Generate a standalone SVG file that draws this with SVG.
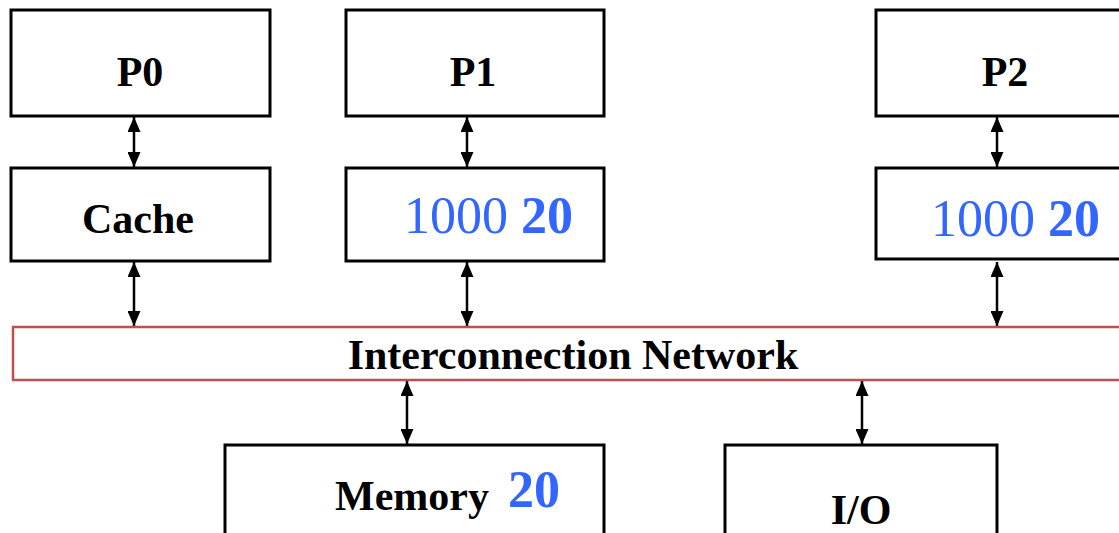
<svg xmlns="http://www.w3.org/2000/svg" width="1119" height="533" viewBox="0 0 1119 533">
  <style>
    .box { fill: #ffffff; stroke: #000000; stroke-width: 3; }
    .net { fill: #ffffff; stroke: #c0504d; stroke-width: 2.5; }
    .lbl { font-family: "Liberation Serif", "Times New Roman", serif; font-weight: bold; font-size: 42px; fill: #000000; }
    .val { font-family: "Liberation Serif", "Times New Roman", serif; font-size: 52px; fill: #3366ff; }
    .valb { font-weight: bold; }
    .link { stroke: #000000; stroke-width: 2.5; fill: none; marker-start: url(#head); marker-end: url(#head); }
  </style>
  <defs>
    <marker id="head" viewBox="0 0 15 13" refX="15" refY="6.5" markerWidth="15" markerHeight="13" markerUnits="userSpaceOnUse" orient="auto-start-reverse">
      <path d="M0,0 L15,6.5 L0,13 Z" fill="#000000"/>
    </marker>
  </defs>
  <rect width="1119" height="533" fill="#ffffff"/>

  <g id="connectors">
    <path class="link" d="M134,117 V167"/>
    <path class="link" d="M467,117 V167"/>
    <path class="link" d="M997,117 V167"/>
    <path class="link" d="M134,262 V326"/>
    <path class="link" d="M467,262 V326"/>
    <path class="link" d="M997,262 V326"/>
    <path class="link" d="M407,381 V444"/>
    <path class="link" d="M862,381 V444"/>
  </g>

  <g id="p0">
    <rect class="box" x="11" y="10" width="259" height="106"/>
    <text class="lbl" x="140" y="86" text-anchor="middle">P0</text>
  </g>
  <g id="p1">
    <rect class="box" x="346" y="10" width="258" height="106"/>
    <text class="lbl" x="473" y="86" text-anchor="middle">P1</text>
  </g>
  <g id="p2">
    <rect class="box" x="876" y="10" width="260" height="106"/>
    <text class="lbl" x="1005" y="86" text-anchor="middle">P2</text>
  </g>

  <g id="cache0">
    <rect class="box" x="11" y="168" width="259" height="93"/>
    <text class="lbl" x="138" y="233" text-anchor="middle">Cache</text>
  </g>
  <g id="cache1">
    <rect class="box" x="346" y="168" width="258" height="93"/>
    <text class="val" x="404" y="233">1000 <tspan class="valb">20</tspan></text>
  </g>
  <g id="cache2">
    <rect class="box" x="876" y="168" width="260" height="91"/>
    <text class="val" x="931" y="236">1000 <tspan class="valb">20</tspan></text>
  </g>

  <g id="network">
    <rect class="net" x="13" y="327" width="1120" height="53"/>
    <text class="lbl" x="573" y="369" text-anchor="middle">Interconnection Network</text>
  </g>

  <g id="memory">
    <rect class="box" x="225" y="445" width="379" height="100"/>
    <text class="lbl" x="335" y="510">Memory</text>
    <text class="val valb" x="508" y="507" font-size="50">20</text>
  </g>
  <g id="io">
    <rect class="box" x="725" y="445" width="272" height="100"/>
    <text class="lbl" x="861" y="524" text-anchor="middle">I/O</text>
  </g>
</svg>
